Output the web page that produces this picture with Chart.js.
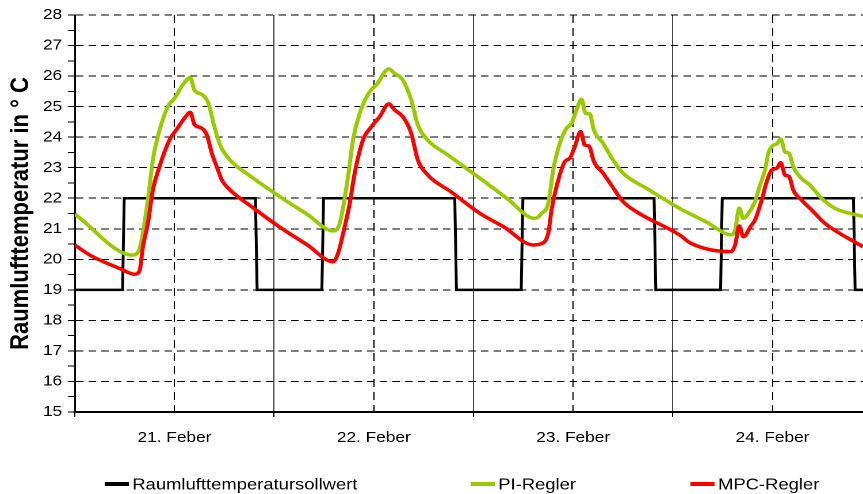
<!DOCTYPE html>
<html>
<head>
<meta charset="utf-8">
<script src="https://cdn.jsdelivr.net/npm/chart.js@4.4.1/dist/chart.umd.min.js"></script>
<style>
  html, body { margin: 0; padding: 0; background: #fff; }
  #chart { display: block; }
</style>
</head>
<body>
<canvas id="chart" width="750" height="494" style="width:863px;height:494px"></canvas>
<script>
// x values are hours since 21 Feb 00:00
const dayLabels = ['21. Feber', '22. Feber', '23. Feber', '24. Feber'];
const xTickHours = [0, 12, 24, 36, 48, 60, 72, 84];
const tempTicks = [15, 15.5, 16, 16.5, 17, 17.5, 18, 18.5, 19, 19.5, 20, 20.5, 21, 21.5, 22,
  22.5, 23, 23.5, 24, 24.5, 25, 25.5, 26, 26.5, 27, 27.5, 28];

const setHours = [0, 5.75, 5.95, 21.75, 21.95, 29.75, 29.95, 45.75, 45.95, 53.75, 53.95,
  69.75, 69.95, 77.75, 77.95, 93.75, 93.95, 95];
const setValues = [19, 19, 22, 22, 19, 19, 22, 22, 19, 19, 22, 22, 19, 19, 22, 22, 19, 19];

const piHours = [0, 7.0, 7.8, 8.8, 9.4, 10.0, 11.2, 12.0, 13.0, 13.9, 14.4, 15.4, 16.1, 16.7,
  17.5, 18.7, 21, 24.7, 28, 31.1, 31.9, 32.9, 33.5, 34.3, 35.5, 36.3, 37.8, 38.5, 39.5, 40.5,
  41.3, 42.3, 45, 48.8, 52, 55.4, 56.2, 57.0, 57.6, 58.4, 59.2, 59.8, 60.4, 61.0, 61.5, 62.0,
  62.5, 63.6, 64.8, 66.0, 69, 72.8, 76, 79.1, 79.5, 80.0, 80.5, 81.1, 81.9, 82.5, 83.1, 83.5,
  84.1, 84.5, 85.0, 85.5, 86.0, 86.5, 87.5, 88.5, 89.9, 91.5, 94.9];
const piValues = [21.48, 20.14, 20.36, 21.94, 23.25, 24.02, 25.0, 25.27, 25.71, 25.95,
  25.54, 25.38, 25.1, 24.45, 23.74, 23.25, 22.75, 22.05, 21.47, 20.93, 21.18, 22.71, 23.91,
  24.78, 25.49, 25.71, 26.23, 26.09, 25.87, 25.22, 24.4, 23.96, 23.4, 22.65, 22.0, 21.34, 21.5,
  21.83, 22.92, 23.8, 24.29, 24.45, 24.89, 25.24, 24.78, 24.76, 24.23, 23.8, 23.25, 22.82, 22.3,
  21.67, 21.23, 20.8, 20.96, 21.67, 21.34, 21.5, 21.89, 22.43, 22.92, 23.47, 23.74, 23.77,
  23.94, 23.52, 23.47, 23.03, 22.65, 22.43, 22.0, 21.67, 21.4];

const mpcHours = [0, 1.8, 5.4, 7.2, 7.8, 8.2, 8.8, 9.4, 10.0, 11.4, 12.2, 13.2, 13.9, 14.4, 15.3,
  15.9, 16.5, 17.1, 17.7, 18.7, 21.5, 24.7, 28, 31.1, 31.7, 32.4, 33.1, 33.7, 34.7, 35.7, 36.7,
  37.8, 38.5, 39.5, 40.5, 41.3, 42.3, 45.5, 48.8, 51.6, 55.2, 56.0, 57.0, 57.4, 58.0, 59.0,
  59.6, 60.2, 60.9, 61.4, 61.9, 62.5, 63.6, 64.6, 66.0, 67.6, 72.8, 74.2, 79.0, 79.5, 80.0,
  80.5, 81.4, 81.9, 82.7, 83.3, 83.9, 84.5, 85.0, 85.5, 86.0, 86.5, 87.5, 88.7, 90.3, 94.9];
const mpcValues = [20.47, 20.14, 19.7, 19.51, 19.63, 20.41, 21.18, 22.27, 22.87, 23.91, 24.23,
  24.62, 24.81, 24.42, 24.29, 24.07, 23.47, 23.03, 22.6, 22.27, 21.68, 21.05, 20.47, 19.92,
  20.2, 20.96, 21.83, 22.82, 23.91, 24.34, 24.67, 25.09, 24.89, 24.67, 24.13, 23.25, 22.82,
  22.17, 21.5, 21.07, 20.47, 20.5, 20.85, 21.62, 22.38, 23.2, 23.31, 23.69, 24.18, 23.74,
  23.71, 23.2, 22.82, 22.43, 21.89, 21.56, 20.8, 20.52, 20.25, 20.47, 21.09, 20.74, 21.09,
  21.29, 21.94, 22.54, 22.92, 22.98, 23.16, 22.76, 22.71, 22.27, 21.94, 21.62, 21.18, 20.41];

const toPoints = (xs, ys) => xs.map((x, i) => ({ x: x, y: ys[i] }));
const FONT = '"Liberation Sans", Arial, sans-serif';

// legend drawn below the plot at fixed spots, like the original sheet
const bottomLegend = {
  id: 'bottomLegend',
  afterDraw(chart) {
    const ctx = chart.ctx;
    const spots = [91, 409, 600];
    const y = 484;
    ctx.save();
    ctx.font = '16px ' + FONT;
    ctx.textBaseline = 'middle';
    chart.data.datasets.forEach((ds, i) => {
      const x = spots[i];
      ctx.strokeStyle = ds.borderColor;
      ctx.lineWidth = 4;
      ctx.beginPath();
      ctx.moveTo(x, y);
      ctx.lineTo(x + 21, y);
      ctx.stroke();
      ctx.fillStyle = '#000';
      ctx.fillText(ds.label, x + 24, y + 1);
    });
    ctx.restore();
  }
};

new Chart(document.getElementById('chart'), {
  type: 'line',
  data: {
    datasets: [
      {
        label: 'Raumlufttemperatursollwert',
        data: toPoints(setHours, setValues),
        borderColor: '#000000',
        borderWidth: 2.5,
        pointRadius: 0,
        tension: 0,
        order: 2,
      },
      {
        label: 'PI-Regler',
        data: toPoints(piHours, piValues),
        borderColor: '#99cc00',
        borderWidth: 3.5,
        pointRadius: 0,
        cubicInterpolationMode: 'monotone',
        order: 1,
      },
      {
        label: 'MPC-Regler',
        data: toPoints(mpcHours, mpcValues),
        borderColor: '#ff0000',
        borderWidth: 3.5,
        pointRadius: 0,
        cubicInterpolationMode: 'monotone',
        order: 0,
      },
    ],
  },
  options: {
    responsive: false,
    devicePixelRatio: 2,
    animation: false,
    layout: { padding: { top: 15, bottom: 42, left: 0, right: 0 } },
    plugins: {
      legend: { display: false },
      tooltip: { enabled: false },
    },
    scales: {
      x: {
        type: 'linear',
        min: 0,
        max: 94.9,
        afterBuildTicks: (axis) => { axis.ticks = xTickHours.map((v) => ({ value: v })); },
        afterFit: (axis) => { axis.height = 40; },
        ticks: {
          autoSkip: false,
          maxRotation: 0,
          padding: 12,
          color: '#000',
          font: { family: FONT, size: 15 },
          callback: (value) => (value % 24 === 12 ? dayLabels[Math.floor(value / 24)] : ''),
        },
        grid: {
          color: (c) => (c.tick && c.tick.value % 24 === 0 ? '#444' : '#000'),
          lineWidth: 1,
          tickLength: 5,
          tickColor: (c) => (c.tick && c.tick.value % 24 === 0 ? '#000' : 'rgba(0,0,0,0)'),
        },
        border: {
          color: '#000',
          width: 2,
          dash: (c) => (c.tick && c.tick.value % 24 === 12 ? [8, 5] : []),
        },
      },
      y: {
        min: 15,
        max: 28,
        afterBuildTicks: (axis) => { axis.ticks = tempTicks.map((v) => ({ value: v })); },
        afterFit: (axis) => { axis.width = 65; },
        ticks: {
          autoSkip: false,
          padding: 5,
          color: '#000',
          font: { family: FONT, size: 15 },
          callback: (value) => (Number.isInteger(value) ? String(value) : ''),
        },
        grid: {
          color: (c) => (c.tick && Number.isInteger(c.tick.value) ? '#000' : 'rgba(0,0,0,0)'),
          lineWidth: 1,
          tickLength: 6,
          tickColor: '#000',
        },
        border: {
          color: '#000',
          width: 1.5,
          dash: (c) => (c.tick ? [6.5, 4.5] : []),
        },
        title: {
          display: true,
          text: 'Raumlufttemperatur in ° C',
          color: '#000',
          font: { family: FONT, size: 22, weight: 'bold' },
          padding: { top: 5, bottom: 0 },
        },
      },
    },
  },
  plugins: [bottomLegend],
});
</script>
</body>
</html>
